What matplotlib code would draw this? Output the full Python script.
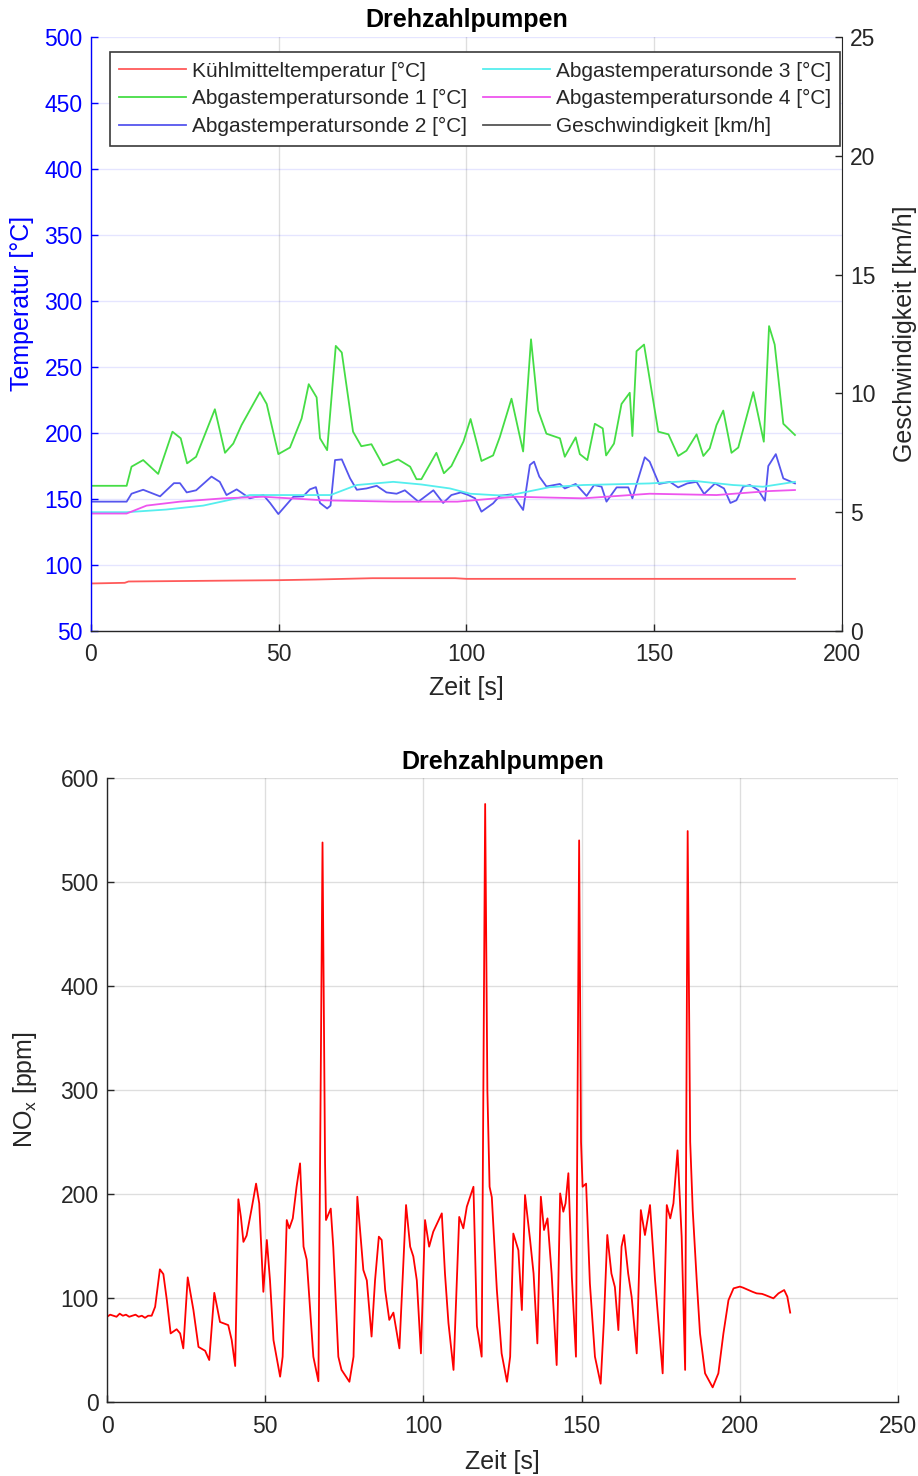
"""
Drehzahlpumpen: Abgastemperaturen und NOx-Verlauf.
"""
import matplotlib
matplotlib.use("Agg")
import matplotlib.pyplot as plt

plt.rcParams['font.family'] = ['Liberation Sans', 'DejaVu Sans']
plt.rcParams['mathtext.fontset'] = 'custom'
plt.rcParams['mathtext.rm'] = 'Liberation Sans'
plt.rcParams['mathtext.it'] = 'Liberation Sans:italic'

TXT = '#262626'

# --- Temperaturen (oben) ---
t_kuehl = [0, 9, 10, 30, 50, 60, 75, 97, 100, 187.5]
kuehl = [86, 86.5, 87.5, 88, 88.5, 89, 90, 90, 89.5, 89.5]

t_abgas1 = [0, 9.5, 10.8, 13.9, 17.9, 21.7, 23.9, 25.6, 28, 33, 35.7, 37.9, 40.1, 45,
            46.8, 49.9, 53, 56.1, 58, 60.1, 61, 62.9, 65.2, 66.8, 69.8, 72, 74.7, 77.8,
            81.8, 85, 86.7, 88, 92, 94, 96, 99.2, 101.1, 104, 107.1, 108.9, 112, 115.1,
            117.2, 119.1, 121.3, 124.9, 126.2, 129.1, 130.2, 132.2, 134.2, 136.3, 137.2,
            139.3, 141.3, 143.5, 144.2, 145.3, 147.3, 151.1, 153.8, 156.4, 158.6, 161.3,
            163.1, 164.8, 166.6, 168.4, 170.6, 172.4, 176.4, 179.2, 180.6, 182.1, 184.4,
            187.5]
abgas1 = [160, 160, 174.5, 179.5, 169, 201, 196, 177, 182, 218, 185, 192, 206, 231,
          222, 184, 189, 211, 237, 227, 196, 187, 266, 261, 201, 190, 191.5, 175.5,
          180, 174.5, 165, 165, 185, 169.5, 175, 193.5, 210.6, 178.8, 183, 197, 226, 186,
          271, 217, 199.5, 196, 182, 196.7, 184, 179.5, 207, 203.5, 183,
          192, 222, 230.5, 197.7, 262, 267, 201, 199, 182.6, 186.6, 199,
          182.6, 188.4, 206, 217, 185, 189, 231, 193.4, 281, 267, 207,
          198.5]

t_abgas2 = [0, 9.5, 10.8, 11.8, 13.9, 18.4, 22.1, 23.7, 25.5, 28, 32.1, 34.3, 36.1, 38.8,
            42.3, 45.9, 47.7, 49.9, 53.9, 56.5, 58.3, 59.9, 61, 62.9, 63.8, 65, 66.8, 69,
            70.8, 73.4, 76.1, 78.7, 81.4, 83.6, 87.2, 91.2, 93.8, 96, 98.5, 100.5, 102.3,
            104, 107.1, 108.9, 112, 113, 115.1, 116.9, 118, 119.4, 121.3, 124.9, 126.2,
            129.1, 132, 134, 136, 137.3, 140, 143.1, 144.2, 145.5, 147.5, 148.8, 151.3,
            154.2, 156.4, 158.8, 161.3, 163.3, 166.2, 168.6, 170.3, 171.9, 173.7, 175.5,
            177.7, 179.5, 180.4, 182.4, 184.4, 187.5]
abgas2 = [148, 148, 154, 155, 157, 152, 162, 162, 155, 156.6, 167, 163, 153, 157.3,
          150.5, 153, 147, 138.6, 151.7, 152, 157.3, 159, 147, 142.8, 145, 179.5, 180, 165.7,
          157, 158, 160, 155, 154, 156.6, 148, 156.6, 147, 153, 155, 153, 150.5,
          140.4, 146.7, 152.5, 153.5, 150.5, 141.7, 175.8, 178.3, 167, 159.5, 161.4, 158,
          161.4, 152.3, 160.6, 159.3, 148, 158.8, 158.8, 150.5, 163, 181.6, 178.3, 161.4,
          163, 158.8, 161.8, 163, 153.8, 161.8, 158, 147, 149, 159.3, 160.6,
          156.8, 148.7, 175, 184, 165.6, 161.8]

t_abgas3 = [0, 9.5, 20, 29.9, 38.8, 42.3, 50, 63.8, 70.8, 80.5, 88, 95.6, 101, 107, 111,
            122.2, 131.1, 148.8, 160.4, 171, 179, 187.5]
abgas3 = [140, 140, 142, 145, 150.5, 153, 153, 153, 160.6, 163, 161, 158, 154, 153, 152.5,
          159, 160.6, 161.8, 163.8, 160.6, 159.3, 163]

t_abgas4 = [0, 9.5, 14.8, 23.7, 35.2, 45.9, 62, 80.4, 97.6, 113, 131, 148.8, 166.6, 180.6, 187.5]
abgas4 = [139, 139, 145, 148, 150.5, 151.7, 149, 148, 148, 151.7, 150.5, 154, 153, 156, 156.8]

# Geschwindigkeit ist im Diagramm nicht sichtbar
t_speed = []
speed = []

# --- NOx (unten) ---
t_nox = [0, 1, 2, 3, 4, 5, 6, 7, 8, 9, 10, 11, 12, 13, 14.1,
         15.2, 16.7, 17.8, 18.9, 20.1, 22, 23.1, 24.1, 25.5, 27.3, 28.9, 31, 32.3, 33.9,
         35.7, 38.3, 39.4, 40.5, 41.5, 42.3, 43.1, 44.1, 45.7, 47.1, 48.1, 49.4, 50.5,
         51.5, 52.6, 54.7, 55.5, 56.8, 57.6, 58.7, 59.9, 61, 62.1, 63.1, 65.2, 66.8,
         68.1, 68.9, 69.2, 70.7, 71.5, 73.1, 74.1, 76.6, 77.9, 79.1, 81, 82.1, 83.6, 84.7,
         85.9, 86.8, 87.9, 89.2, 90.5, 92.4, 94.5, 95.8, 96.8, 97.9, 99.2, 100.5, 101.8,
         103.1, 105.8, 106.8, 107.9, 109.5, 111.3, 112.6, 113.7, 115.8, 116.9, 118.4,
         119.5, 120.2, 120.9, 121.6, 123.2, 124.7, 126.4, 127.4, 128.4, 130, 131.1, 132.1,
         133.7, 134.8, 136, 137.1, 138.1, 139.2, 140.5, 142.1, 143.2, 144.2, 144.9, 145.8,
         146.9, 148.2, 149.2, 149.8, 150.3, 151.4, 152.6, 154.2, 156, 157, 158.1, 159.4,
         160.5, 161.6, 162.6, 163.4, 164.7, 165.8, 167.4, 168.7, 170, 171.6, 173.2, 175.6,
         176.9, 178, 179, 180.3, 181.6, 182.7, 183.5, 184.3, 185.1, 186.4, 187.4, 189,
         191.4, 193.2, 194.8, 196.4, 198, 200, 201, 202.7, 204, 205.3, 207, 208, 209.5,
         210.6, 212.2, 214, 215, 215.9]
nox = [82, 84, 83, 82, 85, 83, 84, 82, 83, 84, 82, 83, 81, 83, 83,
       91.6, 127.6, 123, 98, 66, 70, 66, 51.6, 119.9, 88.5, 53, 49.3, 40.4, 105,
       77, 74, 59.6, 34.6, 195, 178, 154, 160, 186, 210, 191, 106, 155.8,
       117, 59.6, 24.4, 43.6, 175, 167, 176.6, 207, 229.5, 149.4, 137, 43.6, 20,
       538, 230, 175, 186, 149, 43.6, 31, 19.5, 43.6, 197.4, 127, 117, 63, 117,
       159, 155.8, 107.7, 79, 86, 51.6, 189.4, 149.4, 140, 117, 46.8, 175, 149.4,
       163.8, 181.4, 123.6, 76, 30.9, 178, 167, 187.8, 207, 73, 43.6,
       575, 300, 207, 197, 107.7, 46.8, 19.5, 43.6, 162, 146, 88.5, 199,
       155.8, 123.6, 56.4, 197.4, 165.4, 176.6, 123.6, 35.6, 200.6, 183, 191, 220,
       120, 43.6, 540, 250, 207, 210, 114, 43.6, 17.6, 76, 160.6, 123.6,
       110.6, 69.2, 149.4, 160.6, 123.6, 101, 46.8, 184.6, 160.6, 189.4, 117, 27.6,
       189.4, 176.6, 191, 242, 159, 30.9, 549, 250, 184.6, 115, 66, 27.6,
       14.1, 27.6, 66, 98, 109.3, 111, 110, 107.7, 106, 104.5, 104, 102.9, 101,
       99.7, 104.5, 107.7, 101.3, 86]


def style_axis(ax, color=TXT):
    ax.tick_params(direction='in', length=5, width=1.0, labelsize=16.5,
                   colors=TXT)
    for s in ['top', 'right']:
        ax.spines[s].set_visible(False)
    for s in ['left', 'bottom']:
        ax.spines[s].set_color(TXT)
        ax.spines[s].set_linewidth(1.0)


fig = plt.figure(figsize=(9.18, 14.76), dpi=100)

# ---------------- oberes Diagramm ----------------
ax1 = fig.add_axes([0.0991, 0.5725, 0.818, 0.4024])
ax2 = ax1.twinx()
style_axis(ax1)
ax1.spines['left'].set_color('blue')
ax1.tick_params(axis='y', colors='blue')
ax1.tick_params(axis='x', pad=9)
ax1.tick_params(axis='y', pad=6)

ax1.grid(True, axis='x', color='#262626', alpha=0.15, linewidth=1.0)
ax1.grid(True, axis='y', color='blue', alpha=0.1, linewidth=1.0)

l1, = ax1.plot(t_kuehl, kuehl, color='#ff5a5a', lw=1.3, label='Kühlmitteltemperatur [°C]')
l2, = ax1.plot(t_abgas1, abgas1, color='#45dd45', lw=1.3, label='Abgastemperatursonde 1 [°C]')
l3, = ax1.plot(t_abgas2, abgas2, color='#5555ee', lw=1.3, label='Abgastemperatursonde 2 [°C]')
l4, = ax1.plot(t_abgas3, abgas3, color='#55eeee', lw=1.3, label='Abgastemperatursonde 3 [°C]')
l5, = ax1.plot(t_abgas4, abgas4, color='#ee55ee', lw=1.3, label='Abgastemperatursonde 4 [°C]')
l6, = ax2.plot(t_speed, speed, color='#555555', lw=1.3, label='Geschwindigkeit [km/h]')

ax1.set_xlim(0, 200)
ax1.set_ylim(50, 500)
ax1.set_xticks(range(0, 201, 50))
ax1.set_yticks(range(50, 501, 50))
ax2.set_ylim(0, 25)
ax2.set_yticks(range(0, 26, 5))
ax2.tick_params(direction='in', length=5, width=1.0, labelsize=16.5, colors=TXT, pad=6)
for s in ['top', 'left', 'bottom']:
    ax2.spines[s].set_visible(False)
ax2.spines['right'].set_color(TXT)

ax1.set_xlabel('Zeit [s]', fontsize=18, color=TXT, va='center')
ax1.xaxis.set_label_coords(0.5, -0.096)
ax1.set_ylabel('Temperatur [°C]', fontsize=18, color='blue', va='center')
ax1.yaxis.set_label_coords(-0.092, 0.552)
ax2.set_ylabel('Geschwindigkeit [km/h]', fontsize=18, color=TXT, va='center', rotation=90)
ax2.yaxis.set_label_coords(1.084, 0.50)
ax1.set_title('Drehzahlpumpen', fontsize=18, fontweight='bold', color='black',
              y=1.0286, va='center', pad=0)

leg = ax1.legend(handles=[l1, l2, l3, l4, l5, l6], ncol=2, loc='upper left',
                 bbox_to_anchor=(0.0253, 0.9747), borderaxespad=0, fontsize=15,
                 handlelength=3.2, handletextpad=0.3, columnspacing=0.75,
                 labelspacing=0.42, borderpad=0.45, fancybox=False, framealpha=1)
leg.get_frame().set_edgecolor('#3a3a3a')
leg.get_frame().set_linewidth(1.2)
for txt in leg.get_texts():
    txt.set_color(TXT)

# ---------------- unteres Diagramm ----------------
ax3 = fig.add_axes([0.1166, 0.0501, 0.8617, 0.4228])
style_axis(ax3)
ax3.tick_params(axis='x', pad=9)
ax3.tick_params(axis='y', pad=6)
ax3.grid(True, color='#262626', alpha=0.15, linewidth=1.0)
ax3.plot(t_nox, nox, color='red', lw=1.3)
ax3.set_xlim(0, 250)
ax3.set_ylim(0, 600)
ax3.set_xticks(range(0, 251, 50))
ax3.set_yticks(range(0, 601, 100))
ax3.set_xlabel('Zeit [s]', fontsize=18, color=TXT, va='center')
ax3.xaxis.set_label_coords(0.5, -0.096)
ax3.set_ylabel('NO$_\\mathrm{x}$ [ppm]', fontsize=18, color=TXT, va='center')
ax3.yaxis.set_label_coords(-0.104, 0.5)
ax3.set_title('Drehzahlpumpen', fontsize=18, fontweight='bold', color='black',
              y=1.0256, va='center', pad=0)

fig.savefig('out.png', dpi=100, facecolor='white')
